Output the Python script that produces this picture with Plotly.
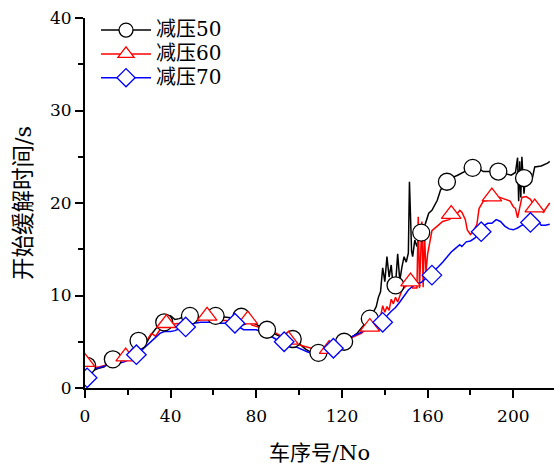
import plotly.graph_objects as go

# ---------------- data ----------------
b_x = [0, 2, 4, 6, 9, 12, 15, 18, 21, 23, 25, 27, 29, 31, 33, 35, 37, 39, 40, 42, 44, 46, 48, 50,
       53, 56, 58, 61, 64, 68, 71, 73, 76, 79, 82, 85, 88, 91, 94, 97, 100, 103, 106, 109, 111,
       113, 116, 119, 121, 124, 127, 130, 132, 134, 136, 137, 138, 139, 140, 141, 142, 143, 144,
       145, 146, 147, 148, 149, 150, 151, 151.5, 152.5, 153, 154, 155, 156.5, 158, 159, 160.5,
       162, 164.5, 166, 169, 172, 174, 177, 179, 181, 184, 186, 189, 193, 196, 199, 201, 202,
       202.5, 203, 203.5, 204, 205, 205.6, 207, 209, 210, 213, 216, 217]
b_y = [2.6, 2.2, 1.9, 2.1, 2.3, 3.0, 3.1, 3.0, 3.6, 4.3, 5.1, 5.0, 5.0, 5.8, 6.4, 6.8, 7.1, 7.5,
       7.8, 7.4, 7.5, 7.7, 7.8, 7.9, 7.6, 7.6, 8.0, 7.8, 7.7, 7.6, 7.7, 7.7, 7.3, 7.0, 6.6, 6.3,
       5.9, 5.6, 5.4, 5.3, 4.8, 4.2, 3.8, 3.8, 3.9, 4.1, 4.5, 5.0, 5.0, 5.4, 5.9, 6.8, 7.4, 7.9,
       8.8, 9.8, 10.4, 13.0, 11.5, 14.2, 12.0, 13.3, 10.6, 11.1, 14.5, 11.6, 13.1, 14.2, 13.6,
       14.6, 22.3, 14.8, 14.2, 16.0, 15.3, 16.8, 17.4, 17.8, 18.9, 19.2, 20.3, 21.4, 22.3, 22.8,
       23.0, 23.4, 23.6, 23.8, 23.7, 23.4, 23.4, 23.4, 23.2, 23.0, 23.3, 24.9, 20.2, 24.5, 20.6,
       25.0, 21.0, 22.7, 22.6, 22.8, 23.9, 24.0, 24.3, 24.5]
b_mx = [1, 13, 25, 37, 49, 61, 73, 85, 97, 109, 121, 133, 145, 157, 169, 181, 193, 205]
b_my = [2.4, 3.1, 5.1, 7.1, 7.8, 7.8, 7.7, 6.3, 5.3, 3.8, 5.0, 7.5, 11.1, 16.8, 22.3, 23.8, 23.4, 22.7]

r_x = [0, 2, 4, 7, 10, 13, 16, 19, 22, 25, 27, 29, 31, 33, 35, 37, 39, 41, 44, 47, 50, 53, 55,
       57, 59, 62, 66, 69, 72, 74, 76, 78, 81, 84, 87, 90, 93, 95, 98, 101, 104, 107, 110, 112,
       114, 117, 120, 123, 126, 129, 132, 134, 136, 138, 139, 140, 141, 142, 143, 144, 145, 146,
       148, 150, 152, 153, 155, 155.6, 156.2, 157.3, 157.9, 158.5, 159.2, 160, 161, 162, 164.5,
       167, 170, 172, 174, 175, 176, 177.6, 178.5, 180, 181.5, 183, 184, 186, 188, 190, 192.5,
       195, 196.5, 198.5, 200, 201, 202, 202.5, 204, 206, 208, 210, 212.5, 214, 217]
r_y = [2.8, 2.5, 2.2, 2.3, 2.5, 2.8, 3.0, 3.4, 4.2, 4.4, 4.6, 5.2, 5.9, 5.6, 6.3, 6.8, 7.2, 6.9,
       7.0, 7.2, 7.1, 7.3, 7.5, 7.8, 7.6, 7.3, 7.3, 7.0, 7.1, 7.4, 7.4, 6.8, 6.6, 6.3, 6.2, 5.8,
       5.4, 5.2, 4.9, 4.6, 4.4, 4.2, 4.0, 3.9, 4.2, 4.5, 4.8, 5.3, 5.6, 5.9, 6.5, 6.8, 7.2, 7.7,
       8.9, 8.2, 8.8, 8.4, 9.6, 9.1, 9.8, 9.3, 10.6, 11.0, 11.5, 10.8, 10.8, 18.5, 10.8, 18.0,
       10.9, 17.0, 12.5, 14.5, 16.0, 17.0, 17.5, 18.0, 18.2, 18.5, 18.9, 19.2, 19.0, 18.2, 17.1,
       16.6, 17.0, 17.7, 19.4, 20.2, 20.3, 20.5, 20.7, 20.5, 20.4, 20.2, 19.6, 19.4, 18.4, 19.0,
       20.6, 20.7, 20.4, 19.6, 19.5, 19.0, 20.0, 20.0]
r_mx = [0, 19, 38, 57, 76, 95, 114, 133, 152, 171, 190, 210]
r_my = [2.8, 3.4, 7.0, 7.8, 7.4, 5.2, 4.2, 6.6, 11.5, 18.8, 20.7, 19.5]

u_x = [0, 1, 2, 3, 5, 8, 11, 14, 18, 21, 24, 27, 29, 31, 33, 35, 37, 40, 42, 44, 47, 49, 51, 54,
       57, 60, 63, 66, 70, 72, 74, 77, 80, 83, 86, 89, 92, 95, 98, 101, 104, 107, 110, 113, 116,
       119, 122, 125, 128, 131, 134, 137, 139, 141, 143, 145, 147, 149, 151, 153, 155, 157, 159,
       161, 163, 165, 167, 169, 171, 173, 175, 176, 178, 180, 182, 184, 186, 188, 190, 192, 194,
       196, 198, 200, 202, 204, 206, 208, 210, 211, 213, 215, 217]
u_y = [0.6, 1.0, 1.4, 1.8, 2.1, 2.3, 2.5, 2.6, 2.8, 3.1, 3.6, 4.2, 4.6, 5.0, 5.5, 5.9, 6.1, 6.1,
       6.2, 6.4, 6.6, 6.8, 7.0, 7.1, 7.1, 7.1, 7.0, 7.0, 7.0, 6.6, 6.3, 6.3, 6.3, 6.0, 5.7, 5.3,
       5.0, 4.7, 4.5, 4.2, 3.9, 3.7, 3.6, 3.9, 4.3, 4.8, 5.2, 5.6, 5.9, 6.3, 6.5, 6.8, 7.1, 7.8,
       8.3, 8.7, 9.3, 10.0, 10.6, 11.0, 11.3, 11.4, 11.8, 12.2, 12.6, 13.1, 13.6, 14.2, 14.7,
       15.1, 15.5, 15.3, 15.8, 15.9, 16.2, 16.7, 17.5, 17.8, 17.8, 18.2, 18.0, 17.5, 17.2, 17.1,
       17.3, 17.6, 17.7, 17.9, 18.1, 18.2, 17.6, 17.6, 17.7]
u_mx = [1, 24, 47, 70, 93, 116, 139, 162, 185, 208]
u_my = [1.1, 3.6, 6.6, 7.0, 5.0, 4.3, 7.1, 12.2, 16.9, 17.9]

names = ["减压50", "减压60", "减压70"]
x_ticks = [0, 40, 80, 120, 160, 200]
y_ticks = [0, 10, 20, 30, 40]
x_title = "车序号/No"
y_title = "开始缓解时间/s"

# ---------------- figure ----------------
series = [
    (b_x, b_y, b_mx, b_my, "black", "circle", 17),
    (r_x, r_y, r_mx, r_my, "#ff0000", "triangle-up", 17),
    (u_x, u_y, u_mx, u_my, "#0000ff", "diamond", 15),
]
FONT = "DejaVu Serif, Noto Sans CJK SC"

fig = go.Figure()
for (lx, ly, mx, my, col, sym, sz), nm in zip(series, names):
    fig.add_trace(go.Scatter(x=lx, y=ly, mode="lines", line=dict(color=col, width=1.5),
                             showlegend=False, hoverinfo="skip"))
for (lx, ly, mx, my, col, sym, sz), nm in zip(series, names):
    fig.add_trace(go.Scatter(x=mx, y=my, mode="markers",
                             marker=dict(symbol=sym, size=sz, color="white",
                                         line=dict(color=col, width=1.3)),
                             showlegend=False))
for (lx, ly, mx, my, col, sym, sz), nm in zip(series, names):
    fig.add_trace(go.Scatter(x=[None], y=[None], mode="lines+markers",
                             name='<span style="font-size:20px">%s</span>' % nm,
                             line=dict(color=col, width=1.5),
                             marker=dict(symbol=sym, size=14, color="white",
                                         line=dict(color=col, width=1.3))))

axis_common = dict(showline=True, linecolor="black", linewidth=2, ticks="outside",
                   ticklen=8, tickwidth=2, tickcolor="black", showgrid=False, zeroline=False,
                   tickfont=dict(family="DejaVu Serif", size=17, color="black"),
                   mirror=False, automargin=False)

fig.update_layout(
    width=554, height=465,
    margin=dict(l=85, r=0, t=18, b=77),
    paper_bgcolor="white", plot_bgcolor="white",
    font=dict(family=FONT, color="black"),
    xaxis=dict(range=[0, 219], tickvals=x_ticks, ticklabelstandoff=4,
               minor=dict(ticks="outside", ticklen=5, tickwidth=2, tickcolor="black", dtick=20, tick0=0),
               title=dict(text=x_title, font=dict(family=FONT, size=21), standoff=20),
               **axis_common),
    yaxis=dict(range=[0, 40], tickvals=y_ticks,
               minor=dict(ticks="outside", ticklen=5, tickwidth=2, tickcolor="black", dtick=5, tick0=0),
               title=dict(text=y_title, font=dict(family=FONT, size=22.5), standoff=12),
               **axis_common),
    legend=dict(x=0.0235, y=1.013, xanchor="left", yanchor="top", bgcolor="rgba(0,0,0,0)",
                font=dict(family=FONT, size=16), itemwidth=50, tracegroupgap=0),
)

fig.write_html("out.html", config={"displayModeBar": False},
               post_script="document.body.style.margin='0';")
